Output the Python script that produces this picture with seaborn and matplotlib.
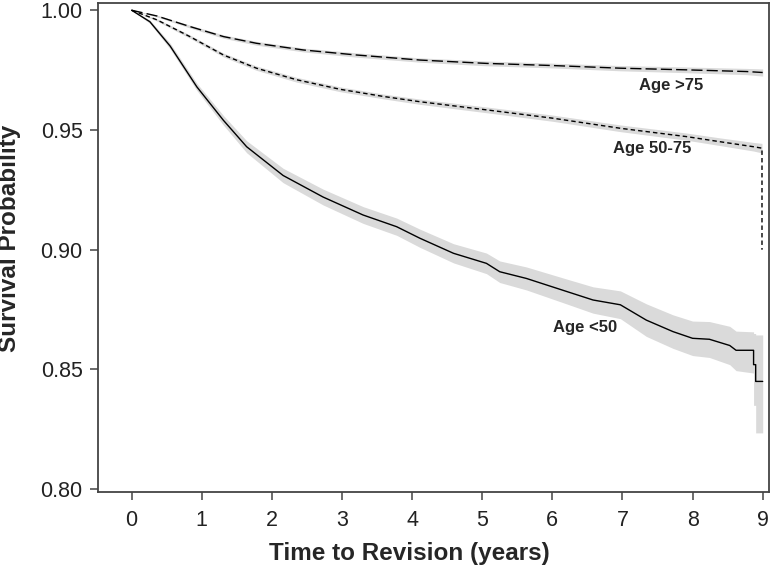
import seaborn as sns
import matplotlib.pyplot as plt
import pandas as pd

# Kaplan-Meier survival, by age group
young_t = [0, 0.26, 0.55, 0.93, 1.31, 1.64, 2.16, 2.73, 3.30, 3.78, 4.11, 4.59, 5.06, 5.25,
           5.63, 6.21, 6.58, 6.97, 7.34, 7.72, 8.00, 8.24, 8.53, 8.62, 8.87, 8.87, 8.90, 8.90, 9.00]
young_s = [1.0, 0.9952, 0.985, 0.968, 0.954, 0.943, 0.931, 0.922, 0.9145, 0.9096, 0.9048, 0.8985,
           0.8943, 0.8908, 0.888, 0.8825, 0.879, 0.877, 0.8706, 0.8658, 0.863, 0.8626, 0.860,
           0.858, 0.858, 0.852, 0.852, 0.845, 0.845]
young_lo = [1.0, 0.9945, 0.9838, 0.9665, 0.952, 0.9405, 0.928, 0.9187, 0.911, 0.906, 0.901, 0.8945,
            0.890, 0.8863, 0.8832, 0.8773, 0.8735, 0.8712, 0.8638, 0.8588, 0.8558, 0.855, 0.852,
            0.8495, 0.8485, 0.835, 0.835, 0.8235, 0.8235]
young_hi = [1.0, 0.9959, 0.9862, 0.9695, 0.956, 0.9455, 0.934, 0.9253, 0.918, 0.9132, 0.9086, 0.9025,
            0.8986, 0.8953, 0.8928, 0.8877, 0.8845, 0.8828, 0.8774, 0.8728, 0.8702, 0.870, 0.868,
            0.866, 0.8657, 0.865, 0.865, 0.8644, 0.8644]

mid_t = [0, 0.36, 0.83, 1.31, 1.78, 2.35, 2.97, 3.59, 4.11, 5.06, 6.01, 6.97, 7.92, 8.39, 8.87, 8.99, 8.99]
mid_s = [1.0, 0.996, 0.989, 0.9813, 0.9758, 0.971, 0.967, 0.964, 0.9618, 0.9584, 0.9549, 0.9507,
         0.9472, 0.9451, 0.943, 0.9424, 0.900]
mid_hw = [0, 0.0005, 0.0007, 0.0008, 0.0009, 0.001, 0.001, 0.001, 0.0011, 0.0012, 0.0013, 0.0014,
          0.0015, 0.0016, 0.0018, 0.002]

old_t = [0, 0.36, 0.83, 1.31, 1.78, 2.45, 3.21, 4.11, 5.06, 6.01, 6.97, 7.92, 8.77, 9.00]
old_s = [1.0, 0.9976, 0.9932, 0.989, 0.9862, 0.9834, 0.9813, 0.9792, 0.9778, 0.9769, 0.9758,
         0.9751, 0.9744, 0.974]
old_hw = [0, 0.0004, 0.0006, 0.0007, 0.0008, 0.0008, 0.0009, 0.0009, 0.001, 0.001, 0.0011,
          0.0012, 0.0013, 0.0015]

groups = ['Age <50', 'Age 50-75', 'Age >75']
x_ticks = [0, 1, 2, 3, 4, 5, 6, 7, 8, 9]
y_ticks = [0.80, 0.85, 0.90, 0.95, 1.00]

sns.set_style("ticks")
plt.rcParams['font.family'] = ['Liberation Sans', 'DejaVu Sans']

df = pd.concat([
    pd.DataFrame({'t': young_t, 's': young_s, 'group': groups[0]}),
    pd.DataFrame({'t': mid_t, 's': mid_s, 'group': groups[1]}),
    pd.DataFrame({'t': old_t, 's': old_s, 'group': groups[2]}),
], ignore_index=True)

fig = plt.figure(figsize=(7.74, 5.68), dpi=100)
ax = fig.add_axes([0.1266, 0.1333, 0.8674, 0.8609])

band = '#dadada'
ax.fill_between(young_t, young_lo, young_hi, color=band, lw=0)
ax.fill_between(mid_t[:-1], [s - h for s, h in zip(mid_s, mid_hw)],
                [s + h for s, h in zip(mid_s, mid_hw)], color=band, lw=0)
ax.fill_between(old_t, [s - h for s, h in zip(old_s, old_hw)],
                [s + h for s, h in zip(old_s, old_hw)], color=band, lw=0)

sns.lineplot(data=df, x='t', y='s', style='group', units='group', estimator=None, sort=False,
             dashes={groups[0]: '', groups[1]: (3.2, 2.2), groups[2]: (8, 3)},
             color='black', lw=1.0, legend=False, ax=ax)

lab = dict(fontsize=12, fontweight='bold', ha='center', va='center')
ax.text(7.69, 0.9685, 'Age >75', **lab)
ax.text(7.43, 0.9421, 'Age 50-75', **lab)
ax.text(6.47, 0.8675, 'Age <50', **lab)

ax.set_xlim(-0.48, 9.095)
ax.set_ylim(0.7987, 1.0029)
ax.set_xticks(x_ticks)
ax.set_yticks(y_ticks)
ax.set_yticklabels([f'{v:.2f}' for v in y_ticks])
ax.tick_params(axis='both', labelsize=15.5, length=6, width=1.1, color='#444444',
               labelcolor='#222222', pad=5)
ax.tick_params(axis='x', pad=7)
for sp in ax.spines.values():
    sp.set_color('#444444')
    sp.set_linewidth(1.3)

ax.set_xlabel('Time to Revision (years)', fontsize=17.5, fontweight='bold')
ax.set_ylabel('Survival Probability', fontsize=17.5, fontweight='bold')
ax.xaxis.set_label_coords(0.4635, -0.102)
ax.yaxis.set_label_coords(-0.114, 0.519)

plt.savefig('out.png', dpi=100)
plt.close()
